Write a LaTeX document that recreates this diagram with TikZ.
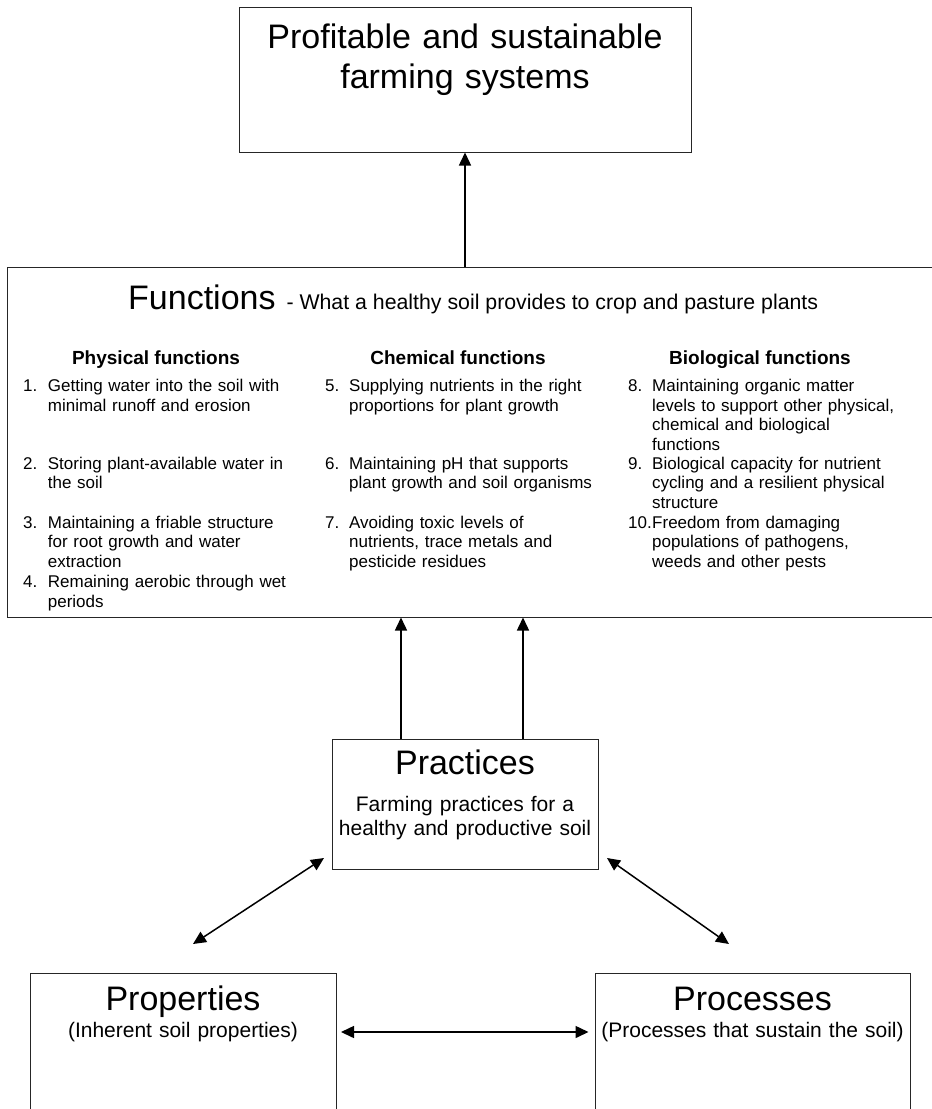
\documentclass[tikz,border=0pt]{standalone}
\usepackage{fontspec}
\setmainfont{Liberation Sans}
\usetikzlibrary{arrows.meta}
\tikzset{
  box/.style={draw=black!85, line width=1pt, rectangle, inner sep=0pt},
  arr/.style={line width=1.5pt, -{Triangle[length=13pt,width=12pt]}},
  darr/.style={line width=1.5pt, {Triangle[length=13pt,width=12pt]}-{Triangle[length=13pt,width=12pt]}},
  itemtext/.style={anchor=base west, inner sep=0pt, font=\fontsize{17}{19.5}\selectfont, align=left, text width=300pt},
  numtext/.style={anchor=base west, inner sep=0pt, font=\fontsize{17}{19.5}\selectfont},
  headtext/.style={anchor=base, inner sep=0pt, font=\fontsize{19}{22}\selectfont\bfseries},
  bigtext/.style={anchor=base, inner sep=0pt, font=\fontsize{34}{40}\selectfont, align=center, text width=460pt},
  subtext/.style={anchor=base, inner sep=0pt, font=\fontsize{21}{24}\selectfont, align=center, text width=330pt}
}
\begin{document}
\begin{tikzpicture}[x=1pt,y=-1pt]
\useasboundingbox (0,0) rectangle (932,1109);

% boxes
\node[box, minimum width=452pt, minimum height=145pt] (goal) at (465,79.5) {};
\node[box, minimum width=938pt, minimum height=350pt] (func) at (476,442) {};
\node[box, minimum width=266pt, minimum height=130pt] (prac) at (465,804) {};
\node[box, minimum width=306pt, minimum height=170pt] (props) at (183,1058) {};
\node[box, minimum width=315pt, minimum height=170pt] (procs) at (752.5,1058) {};

% goal text
\node[bigtext] (goalt) at (465,48) {Profitable and sustainable\\[0pt]farming systems};

% functions title
\node[anchor=base west, inner sep=0pt] (funct) at (128,309.3)
  {{\fontsize{34}{40}\selectfont Functions~}\hspace{1.5pt}{\fontsize{21.3}{24}\selectfont - What a healthy soil provides to crop and pasture plants}};

% headers
\node[headtext] (h1) at (156,364.3) {Physical functions};
\node[headtext] (h2) at (458,364.3) {Chemical functions};
\node[headtext] (h3) at (760,364.3) {Biological functions};

% column 1
\node[numtext] (n1) at (23,391.7) {1.};
\node[itemtext] (i1) at (47.7,391.7) {Getting water into the soil with\\minimal runoff and erosion};
\node[numtext] (n2) at (23,469.3) {2.};
\node[itemtext] (i2) at (47.7,469.3) {Storing plant-available water in\\the soil};
\node[numtext] (n3) at (23,528.3) {3.};
\node[itemtext] (i3) at (47.7,528.3) {Maintaining a friable structure\\for root growth and water\\extraction};
\node[numtext] (n4) at (23,587.7) {4.};
\node[itemtext] (i4) at (47.7,587.7) {Remaining aerobic through wet\\periods};

% column 2
\node[numtext] (n5) at (325,391.7) {5.};
\node[itemtext] (i5) at (349,391.7) {Supplying nutrients in the right\\proportions for plant growth};
\node[numtext] (n6) at (325,469.3) {6.};
\node[itemtext] (i6) at (349,469.3) {Maintaining pH that supports\\plant growth and soil organisms};
\node[numtext] (n7) at (325,528.3) {7.};
\node[itemtext] (i7) at (349,528.3) {Avoiding toxic levels of\\nutrients, trace metals and\\pesticide residues};

% column 3
\node[numtext] (n8) at (628,391.7) {8.};
\node[itemtext] (i8) at (652,391.7) {Maintaining organic matter\\levels to support other physical,\\chemical and biological\\functions};
\node[numtext] (n9) at (628,469.3) {9.};
\node[itemtext] (i9) at (652,469.3) {Biological capacity for nutrient\\cycling and a resilient physical\\structure};
\node[numtext] (n10) at (628,528.3) {10.};
\node[itemtext] (i10) at (652,528.3) {Freedom from damaging\\populations of pathogens,\\weeds and other pests};

% practices text
\node[bigtext] (pract) at (465,774) {Practices};
\node[subtext] (pracs) at (465,811) {Farming practices for a\\healthy and productive soil};

% properties / processes text
\node[bigtext] (propt) at (183,1010) {Properties};
\node[subtext] (props2) at (183,1037) {(Inherent soil properties)};
\node[bigtext] (proct) at (752.5,1010) {Processes};
\node[subtext] (procs2) at (752.5,1037) {(Processes that sustain the soil)};

% connectors
\draw[arr] (func.north -| goal.south) -- (goal.south);
\coordinate (a1) at (401,0);
\coordinate (a2) at (523,0);
\draw[arr] (prac.north -| a1) -- (func.south -| a1);
\draw[arr] (prac.north -| a2) -- (func.south -| a2);
\coordinate (dl1) at (324,858);
\coordinate (dl2) at (193,944);
\coordinate (dr1) at (607,858);
\coordinate (dr2) at (729,944);
\draw[darr] (dl1) -- (dl2);
\draw[darr] (dr1) -- (dr2);
\coordinate (hy) at (0,1032);
\draw[darr] ([xshift=4.5pt]props.east |- hy) -- ([xshift=-6pt]procs.west |- hy);
\end{tikzpicture}
\end{document}
